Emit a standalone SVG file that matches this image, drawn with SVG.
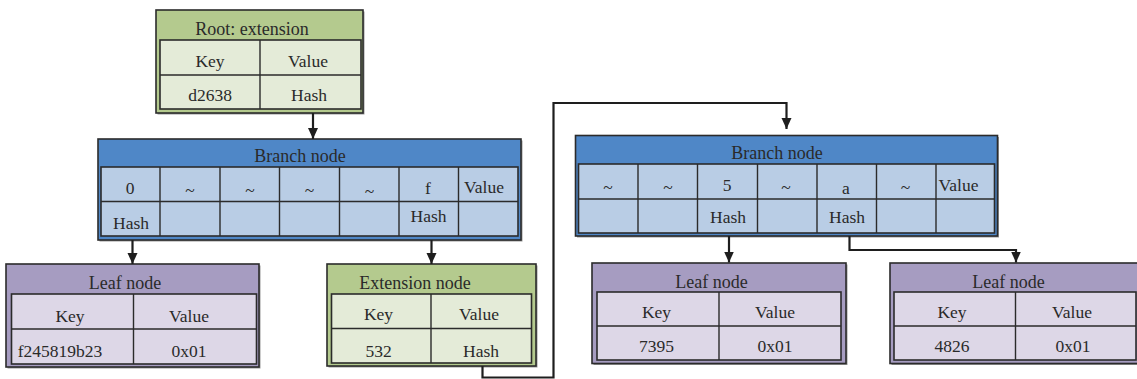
<svg xmlns="http://www.w3.org/2000/svg" width="1137" height="379" viewBox="0 0 1137 379">
<defs>
<marker id="arr" markerUnits="userSpaceOnUse" markerWidth="12" markerHeight="12" viewBox="0 0 12 12" refX="11" refY="6" orient="auto">
<path d="M0,1 L11,6 L0,11 Z" fill="#1e1e1e"/>
</marker>
</defs>
<style>
.t{font-family:"Liberation Serif","Times New Roman",serif;font-size:17.5px;fill:#2a2a2a;text-anchor:middle}
.h{font-size:18px}
.sh{fill:#9a9a9a}
.ob{stroke:#2b2b2b;stroke-width:1.6}
.tb{stroke:#2b2b2b;stroke-width:1.6}
.gH{fill:#b4ca8e}.gC{fill:#e4ebd8}
.bH{fill:#4f87c7}.bC{fill:#b9cde5}
.pH{fill:#a69cc1}.pC{fill:#ddd7e7}
.ln{stroke:#2b2b2b;stroke-width:1.4;fill:none}
.cn{stroke:#1e1e1e;stroke-width:2.2;fill:none}
</style>

<g id="root">
<rect class="sh" x="157.5" y="11.5" width="207" height="103"/>
<rect class="gH ob" x="156" y="10" width="207" height="103"/>
<rect class="gC tb" x="160" y="40" width="201" height="69"/>
<path class="ln" d="M160,75 H361 M260,40 V109"/>
<text class="t h" x="252" y="35">Root: extension</text>
<text class="t" x="210" y="67">Key</text>
<text class="t" x="308" y="67">Value</text>
<text class="t" x="210" y="101">d2638</text>
<text class="t" x="309" y="101">Hash</text>
</g>

<g id="branch1">
<rect class="sh" x="99.5" y="140.5" width="423" height="101"/>
<rect class="bH ob" x="98" y="139" width="423" height="101"/>
<rect class="bC tb" x="101" y="167" width="417" height="69"/>
<path class="ln" d="M101,201.5 H518 M160,167 V236 M220,167 V236 M279.5,167 V236 M339.5,167 V236 M399,167 V236 M458.5,167 V236"/>
<text class="t h" x="300" y="162">Branch node</text>
<text class="t" x="130" y="194">0</text>
<text class="t" x="190" y="196">~</text>
<text class="t" x="250" y="196">~</text>
<text class="t" x="309.5" y="196">~</text>
<text class="t" x="369.5" y="197">~</text>
<text class="t" x="428" y="194">f</text>
<text class="t" x="484" y="193">Value</text>
<text class="t" x="131" y="229">Hash</text>
<text class="t" x="428.5" y="222">Hash</text>
</g>

<g id="leaf1">
<rect class="sh" x="7.5" y="265.5" width="253" height="103"/>
<rect class="pH ob" x="6" y="264" width="253" height="103"/>
<rect class="pC tb" x="11.5" y="294" width="245" height="70"/>
<path class="ln" d="M11.5,329 H256.5 M133.5,294 V364"/>
<text class="t h" x="125" y="289">Leaf node</text>
<text class="t" x="70" y="322">Key</text>
<text class="t" x="189" y="322">Value</text>
<text class="t" x="60" y="357">f245819b23</text>
<text class="t" x="189" y="357">0x01</text>
</g>

<g id="extension">
<rect class="sh" x="328.5" y="265.5" width="209" height="102"/>
<rect class="gH ob" x="327" y="264" width="209" height="102"/>
<rect class="gC tb" x="331.5" y="294" width="200" height="69"/>
<path class="ln" d="M331.5,328.5 H531.5 M431,294 V363"/>
<text class="t h" x="415" y="289">Extension node</text>
<text class="t" x="378.5" y="320">Key</text>
<text class="t" x="479" y="320">Value</text>
<text class="t" x="378.5" y="357">532</text>
<text class="t" x="481" y="357">Hash</text>
</g>

<g id="branch2">
<rect class="sh" x="577" y="137" width="422" height="100.5"/>
<rect class="bH ob" x="575.5" y="135.5" width="422" height="100.5"/>
<rect class="bC tb" x="578.5" y="164" width="416" height="69"/>
<path class="ln" d="M578.5,199 H994.5 M638,164 V233 M697.5,164 V233 M757.5,164 V233 M817,164 V233 M876.5,164 V233 M936,164 V233"/>
<text class="t h" x="777" y="159">Branch node</text>
<text class="t" x="608" y="193">~</text>
<text class="t" x="668" y="193">~</text>
<text class="t" x="727" y="191">5</text>
<text class="t" x="786" y="193">~</text>
<text class="t" x="846" y="194">a</text>
<text class="t" x="905.5" y="193">~</text>
<text class="t" x="958.5" y="191">Value</text>
<text class="t" x="728" y="223">Hash</text>
<text class="t" x="847" y="223">Hash</text>
</g>

<g id="leaf2">
<rect class="sh" x="593.5" y="264.5" width="254" height="100.5"/>
<rect class="pH ob" x="592" y="263" width="254" height="100.5"/>
<rect class="pC tb" x="597" y="292" width="244" height="68"/>
<path class="ln" d="M597,326 H841 M719,292 V360"/>
<text class="t h" x="711.5" y="288">Leaf node</text>
<text class="t" x="656.5" y="318">Key</text>
<text class="t" x="775" y="318">Value</text>
<text class="t" x="656.5" y="352">7395</text>
<text class="t" x="775" y="352">0x01</text>
</g>

<g id="leaf3">
<rect class="sh" x="891.5" y="264.5" width="254" height="100.5"/>
<rect class="pH ob" x="890" y="263" width="254" height="100.5"/>
<rect class="pC tb" x="894" y="292" width="242" height="68"/>
<path class="ln" d="M894,326 H1136 M1015.5,292 V360"/>
<text class="t h" x="1008.5" y="288">Leaf node</text>
<text class="t" x="952" y="318">Key</text>
<text class="t" x="1072" y="318">Value</text>
<text class="t" x="952" y="352">4826</text>
<text class="t" x="1073" y="352">0x01</text>
</g>

<g id="connectors">
<path class="cn" d="M313,113 V139" marker-end="url(#arr)"/>
<path class="cn" d="M132.5,240 V264" marker-end="url(#arr)"/>
<path class="cn" d="M431.5,240 V264" marker-end="url(#arr)"/>
<path class="cn" d="M482.5,366 V377.5 H553.5 V103 H786.5 V129" marker-end="url(#arr)"/>
<path class="cn" d="M729,236 V262.5" marker-end="url(#arr)"/>
<path class="cn" d="M849.5,236 V250 H1016 V262.5" marker-end="url(#arr)"/>
</g>
</svg>
